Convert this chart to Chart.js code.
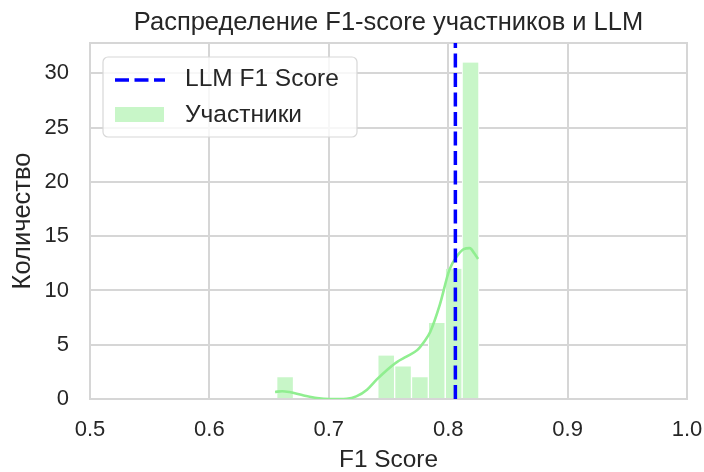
<!DOCTYPE html>
<html>
<head>
<meta charset="utf-8">
<script src="https://cdn.jsdelivr.net/npm/chart.js@4.4.1/dist/chart.umd.min.js"></script>
<style>
  html, body { margin: 0; padding: 0; background: #ffffff; }
  #wrap { width: 704px; height: 472px; }
</style>
</head>
<body>
<div id="wrap"><canvas id="c" width="704" height="472"></canvas></div>
<script>
// ---- data ----
const binCenters = [0.6634, 0.6775, 0.6916, 0.7057, 0.7199, 0.7340, 0.7481, 0.7622, 0.7763, 0.7904, 0.8046, 0.8187];
const binCounts  = [2, 0, 0, 0, 0, 0, 4, 3, 2, 7, 12, 31];
const kdeX = [0.655, 0.661, 0.667, 0.679, 0.690, 0.701, 0.715, 0.723, 0.732, 0.740, 0.749, 0.757, 0.765, 0.774, 0.780, 0.785, 0.793, 0.801, 0.807, 0.813, 0.818, 0.822, 0.825];
const kdeY = [0.65, 0.72, 0.64, 0.33, 0.09, 0.0, 0.03, 0.24, 0.86, 1.78, 2.7, 3.4, 3.9, 4.5, 5.3, 6.2, 8.7, 11.9, 13.1, 13.8, 13.9, 13.4, 12.9];
const llmScore = 0.806;
const xTicks = [0.5, 0.6, 0.7, 0.8, 0.9, 1.0];
const yTicks = [0, 5, 10, 15, 20, 25, 30];
const seriesLabels = ['LLM F1 Score', 'Участники'];
const titleText = 'Распределение F1-score участников и LLM';
const xTitle = 'F1 Score';
const yTitle = 'Количество';

const X_MIN = 0.5, X_MAX = 1.0, Y_MIN = 0, Y_MAX = 32.8;
const TEXT = '#262626';
const GRID = '#d6d6d6';
const FONT = "'Liberation Sans', Arial, sans-serif";
const BAR_FILL = '#c8f6c8';
const KDE_COLOR = '#90ee90';

const frameLegend = {
  id: 'frameLegend',
  afterLayout(chart) {
    // centre the title over the plot area, as matplotlib does
    const tb = chart.titleBlock;
    if (tb) {
      tb.left = chart.chartArea.left;
      tb.right = chart.chartArea.right;
      tb.width = tb.right - tb.left;
    }
  },
  beforeDatasetsDraw(chart) {
    const {ctx, chartArea: a} = chart;
    ctx.save();
    ctx.strokeStyle = GRID;
    ctx.lineWidth = 2;
    ctx.strokeRect(a.left, a.top, a.right - a.left, a.bottom - a.top);
    ctx.restore();
  },
  afterDraw(chart) {
    const {ctx, chartArea: a} = chart;
    const x0 = a.left + 13, y0 = a.top + 14, w = 254, h = 80;
    ctx.save();
    ctx.beginPath();
    ctx.roundRect(x0, y0, w, h, 5);
    ctx.fillStyle = 'rgba(255,255,255,0.8)';
    ctx.fill();
    ctx.strokeStyle = '#d8d8d8';
    ctx.lineWidth = 1.2;
    ctx.stroke();
    // entry 1: dashed line
    const ds0 = chart.data.datasets[0];
    ctx.beginPath();
    ctx.setLineDash([14, 5.5]);
    ctx.strokeStyle = ds0.borderColor;
    ctx.lineWidth = ds0.borderWidth;
    ctx.moveTo(x0 + 12, y0 + 23);
    ctx.lineTo(x0 + 62, y0 + 23);
    ctx.stroke();
    ctx.setLineDash([]);
    // entry 2: patch
    const ds2 = chart.data.datasets[2];
    ctx.fillStyle = ds2.backgroundColor;
    ctx.fillRect(x0 + 12, y0 + 50, 49, 15);
    ctx.fillStyle = TEXT;
    ctx.font = '24.5px ' + FONT;
    ctx.textBaseline = 'middle';
    ctx.textAlign = 'left';
    ctx.fillText(ds0.label, x0 + 82, y0 + 22);
    ctx.fillText(ds2.label, x0 + 82, y0 + 58);
    ctx.restore();
  }
};

new Chart(document.getElementById('c'), {
  data: {
    datasets: [
      {
        type: 'line',
        label: seriesLabels[0],
        data: [{x: llmScore, y: Y_MIN}, {x: llmScore, y: Y_MAX}],
        borderColor: '#0000ff',
        borderWidth: 3.5,
        borderDash: [14, 5.5],
        pointRadius: 0,
        order: 0
      },
      {
        type: 'line',
        label: 'kde',
        data: kdeX.map((x, i) => ({x, y: kdeY[i]})),
        borderColor: KDE_COLOR,
        borderWidth: 2.6,
        pointRadius: 0,
        cubicInterpolationMode: 'monotone',
        order: 1
      },
      {
        type: 'bar',
        label: seriesLabels[1],
        data: binCenters.map((x, i) => ({x, y: binCounts[i]})),
        backgroundColor: BAR_FILL,
        borderColor: '#ffffff',
        borderWidth: {left: 1, right: 1, top: 0, bottom: 0},
        barPercentage: 1,
        categoryPercentage: 1,
        order: 2
      }
    ]
  },
  options: {
    responsive: false,
    animation: false,
    layout: { padding: { left: 0, right: 17, top: 0, bottom: 0 } },
    plugins: {
      legend: { display: false },
      tooltip: { enabled: false },
      title: {
        display: true,
        text: titleText,
        color: TEXT,
        font: { family: FONT, size: 25.5, weight: 'normal', lineHeight: 1.2 },
        padding: { top: 8, bottom: 4.4 }
      }
    },
    scales: {
      x: {
        type: 'linear',
        min: X_MIN, max: X_MAX,
        offset: false,
        afterBuildTicks(scale) { scale.ticks = xTicks.map(v => ({value: v})); },
        ticks: {
          color: TEXT,
          font: { family: FONT, size: 22 },
          padding: 18,
          maxRotation: 0,
          callback: v => v.toFixed(1)
        },
        grid: { color: GRID, lineWidth: 2, drawTicks: false, offset: false },
        border: { display: false },
        title: {
          display: true, text: xTitle, color: TEXT,
          font: { family: FONT, size: 24.4, lineHeight: 1 },
          padding: { top: 0, bottom: 0 }
        },
        afterFit(scale) {
          scale.height = 73;
          scale.paddingRight = 0;
          scale.paddingLeft = 0;
        }
      },
      y: {
        type: 'linear',
        min: Y_MIN, max: Y_MAX,
        afterBuildTicks(scale) { scale.ticks = yTicks.map(v => ({value: v})); },
        ticks: {
          color: TEXT,
          font: { family: FONT, size: 22 },
          padding: 21
        },
        grid: { color: GRID, lineWidth: 2, drawTicks: false },
        border: { display: false },
        title: {
          display: true, text: yTitle, color: TEXT,
          font: { family: FONT, size: 25.5, lineHeight: 1 },
          padding: { top: 10, bottom: 10 }
        },
        afterFit(scale) {
          scale.width = 90;
          scale.paddingTop = 0;
          scale.paddingBottom = 0;
        }
      }
    }
  },
  plugins: [frameLegend]
});
</script>
</body>
</html>
